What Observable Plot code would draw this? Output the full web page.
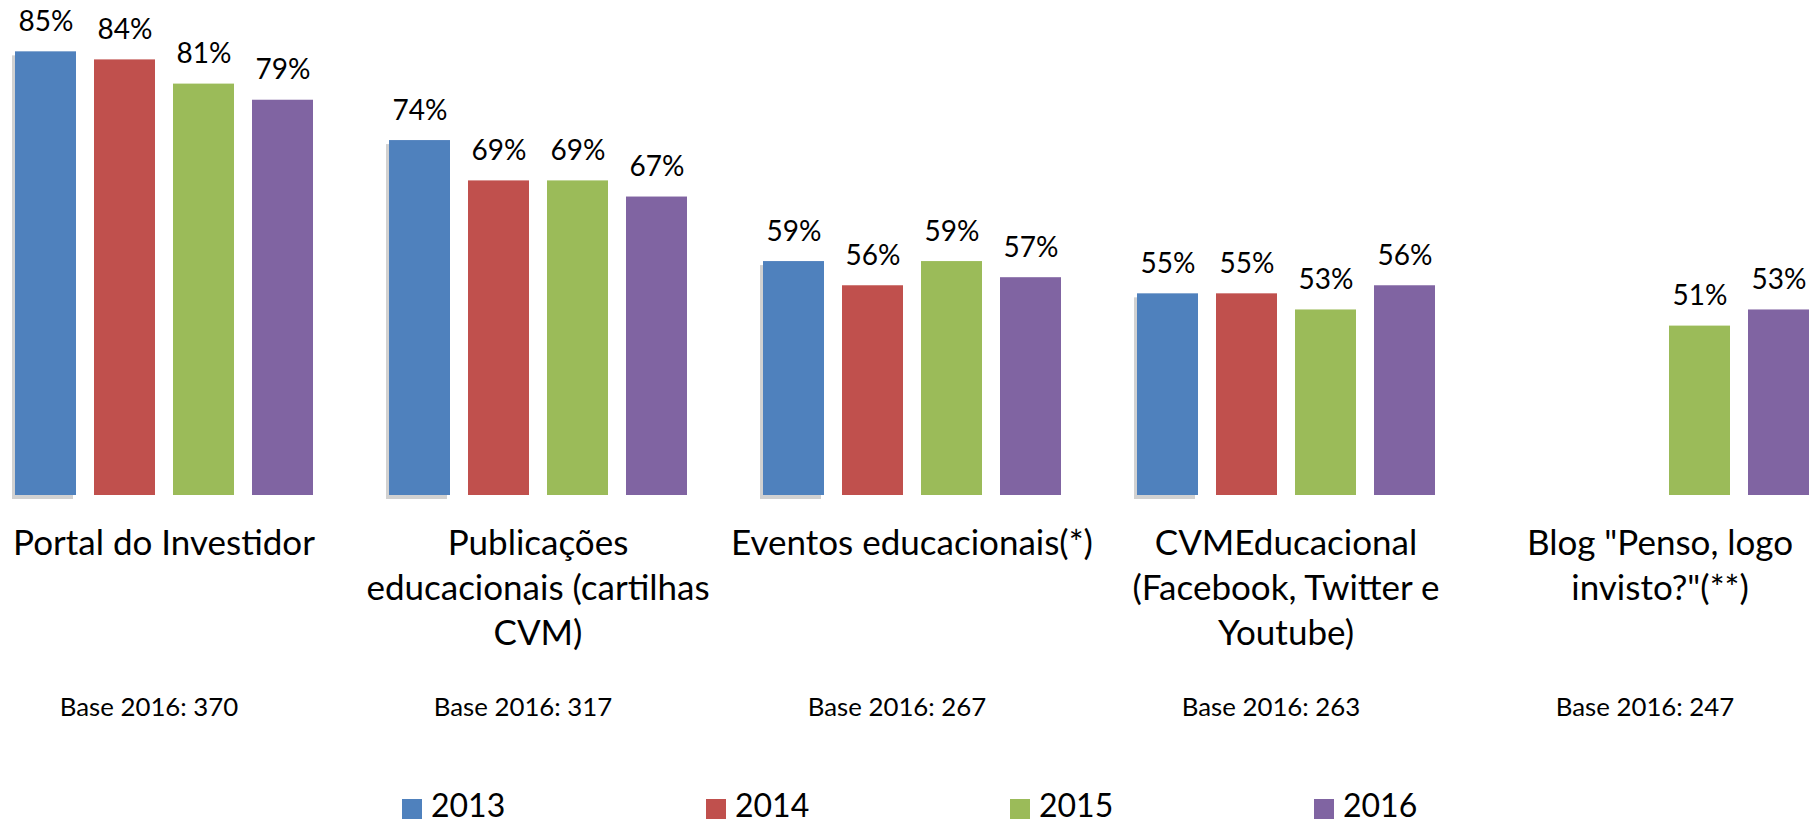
<!DOCTYPE html>
<html>
<head>
<meta charset="utf-8">
<script src="https://cdn.jsdelivr.net/npm/d3@7"></script>
<script src="https://cdn.jsdelivr.net/npm/@observablehq/plot@0.6"></script>
<style>
  html, body { margin: 0; padding: 0; background: #fff; }
  body { width: 1810px; height: 823px; overflow: hidden; font-family: Lato, "Open Sans", sans-serif; color: #000; }
  #legend { display: flex; margin-left: 402px; margin-top: 9px; }
  .item { display: flex; align-items: flex-start; width: 304px; }
  .sw { width: 20px; height: 20px; margin-top: 10px; margin-right: 9px; }
  .lab { font-size: 32px; line-height: 32px; }
</style>
</head>
<body>
<div id="chart"></div>
<div id="legend"></div>
<script>
const categories = [
  "Portal do Investidor",
  "Publicações educacionais (cartilhas CVM)",
  "Eventos educacionais(*)",
  "CVMEducacional (Facebook, Twitter e Youtube)",
  "Blog \"Penso, logo invisto?\"(**)"
];
const tickLabels = [
  "Portal do Investidor",
  "Publicações\neducacionais (cartilhas\nCVM)",
  "Eventos educacionais(*)",
  "CVMEducacional\n(Facebook, Twitter e\nYoutube)",
  "Blog \"Penso, logo\ninvisto?\"(**)"
];
const baseLabels = ["Base 2016: 370", "Base 2016: 317", "Base 2016: 267", "Base 2016: 263", "Base 2016: 247"];
const years = ["2013", "2014", "2015", "2016"];
const v2013 = [0.85, 0.74, 0.59, 0.55, null];
const v2014 = [0.84, 0.69, 0.56, 0.55, null];
const v2015 = [0.81, 0.69, 0.59, 0.53, 0.51];
const v2016 = [0.79, 0.67, 0.57, 0.56, 0.53];
const colors = ["#4F81BD", "#C0504D", "#9BBB59", "#8064A2"];

const series = [v2013, v2014, v2015, v2016];
const data = [];
categories.forEach((c, i) => {
  years.forEach((y, j) => {
    const v = series[j][i];
    if (v != null) data.push({category: c, year: y, value: v});
  });
});

const yMin = 0.3;

const chart = Plot.plot({
  width: 1810,
  height: 780,
  marginTop: 11,
  marginBottom: 285,
  marginLeft: 13,
  marginRight: 0,
  style: {fontFamily: "Lato, 'Open Sans', sans-serif", color: "#000", background: "#fff"},
  fx: {domain: categories, paddingInner: 0.196, paddingOuter: 0, axis: null, label: null},
  x: {domain: years, paddingInner: 0.233, paddingOuter: 0, axis: null},
  y: {domain: [yMin, 0.9], axis: null},
  color: {domain: years, range: colors},
  marks: [
    Plot.barY(data.filter(d => d.year === "2013"), {
      fx: "category", x: "year", y1: yMin, y2: "value",
      fill: "#000", fillOpacity: 0.18, dx: -3, dy: 4
    }),
    Plot.barY(data, {fx: "category", x: "year", y1: yMin, y2: "value", fill: "year"}),
    Plot.text(data, {
      fx: "category", x: "year", y: "value",
      text: d => Math.round(d.value * 100) + "%",
      dy: -30, fontSize: 28, fill: "#000"
    }),
    Plot.axisFx({
      anchor: "bottom", tickSize: 0, tickPadding: 28, fontSize: 35, lineHeight: 1.286,
      tickFormat: d => tickLabels[categories.indexOf(d)], label: null, fill: "#000"
    }),
    Plot.text(categories, {
      fx: d => d, text: (d, i) => baseLabels[i],
      frameAnchor: "bottom", lineAnchor: "top", dy: 202, dx: -15, fontSize: 25.8, fill: "#000"
    })
  ]
});
document.getElementById("chart").appendChild(chart);

const legend = d3.select("#legend");
years.forEach((y, i) => {
  const it = legend.append("div").attr("class", "item");
  it.append("div").attr("class", "sw").style("background", colors[i]);
  it.append("div").attr("class", "lab").text(y);
});
</script>
</body>
</html>
